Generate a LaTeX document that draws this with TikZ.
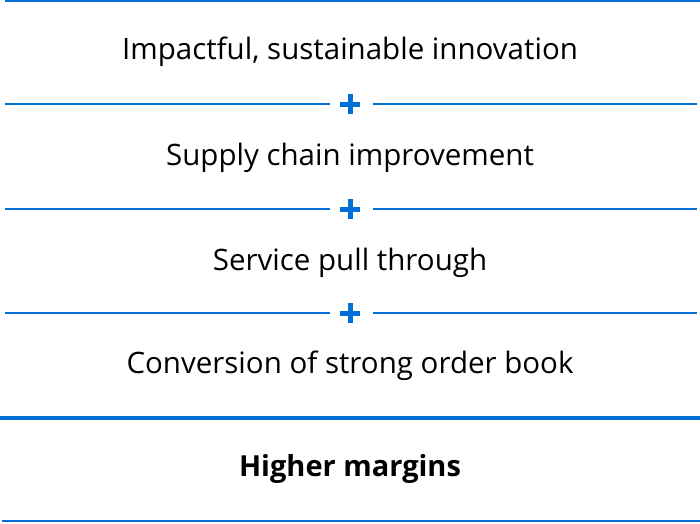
\documentclass[tikz,border=0pt]{standalone}
\usepackage{fontspec}
\setmainfont{Open Sans}
\usetikzlibrary{calc}
\definecolor{sblue}{RGB}{0,112,214}
\begin{document}
\begin{tikzpicture}[x=1pt,y=-1pt,
  txt/.style={font=\fontsize{29.5}{35}\selectfont, inner sep=0pt, anchor=base},
  thin/.style={draw=sblue, line width=1.5pt},
  plus/.style={draw=sblue, line width=5pt},
]
\useasboundingbox (0,0) rectangle (700,523);
\draw[thin] (5,1) -- (700,1);
\node[txt] (t1) at (350,59) {Impactful, sustainable innovation};
\node[txt] (t2) at (350,165) {Supply chain improvement};
\node[txt] (t3) at (350,270) {Service pull through};
\node[txt] (t4) at (350,373) {Conversion of strong order book};
\node[txt, font=\fontsize{29}{35}\selectfont\bfseries] (t5) at (350,476) {Higher margins};
\foreach \y/\n in {104/a,209/b,313/c}{
  \coordinate (l\n) at (5,\y);
  \coordinate (r\n) at (697,\y);
  \coordinate (p\n) at (350,\y);
  \draw[thin] (l\n) -- ++(325,0);
  \draw[thin] (r\n) -- ++(-324,0);
  \draw[plus] ($(p\n)+(-10,0)$) -- ($(p\n)+(10,0)$);
  \draw[plus] ($(p\n)+(0,-10)$) -- ($(p\n)+(0,10)$);
}
\draw[draw=sblue, line width=4.5pt] (0,418) -- (700,418);
\draw[thin] (2,521) -- (700,521);
\end{tikzpicture}
\end{document}
